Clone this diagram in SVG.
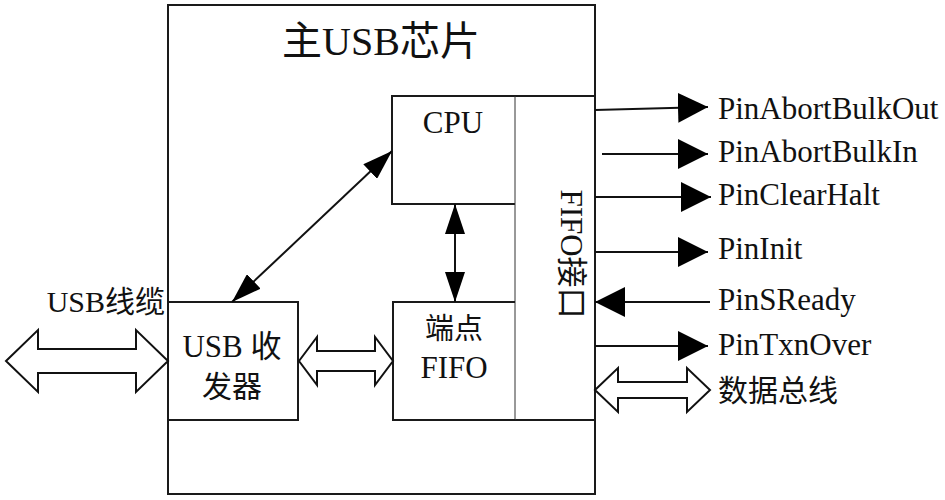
<svg xmlns="http://www.w3.org/2000/svg" width="945" height="500" viewBox="0 0 945 500">
<style>
.box{fill:none;stroke:#1a1a1a;stroke-width:2}
.thin{fill:none;stroke:#333;stroke-width:1}
.ln{stroke:#111;stroke-width:2;fill:none}
.dbl{fill:#fff;stroke:#111;stroke-width:2;stroke-linejoin:miter}
</style>
<defs>
<marker id="ah" viewBox="0 0 30 20" refX="30" refY="10" markerWidth="30" markerHeight="20" markerUnits="userSpaceOnUse" orient="auto-start-reverse">
<path d="M0,0 L30,10 L0,20 Z" fill="#000"/>
</marker>
<marker id="ah2" viewBox="0 0 30 30" refX="30" refY="15" markerWidth="30" markerHeight="30" markerUnits="userSpaceOnUse" orient="auto-start-reverse">
<path d="M0,0 L30,15 L0,30 Z" fill="#000"/>
</marker>
</defs>
<rect width="945" height="500" fill="#fff"/>

<g font-family="Liberation Serif, Noto Sans CJK SC, serif" fill="#111">
<g id="chip">
<rect class="box" x="168" y="5" width="427" height="489"/>
<text x="381" y="55" font-size="40" text-anchor="middle">主USB芯片</text>
</g>

<g id="cpu">
<path class="box" d="M515,204 L392,204 L392,96 L515,96"/>
<text x="453" y="133" font-size="31" text-anchor="middle">CPU</text>
</g>

<g id="fifo-interface">
<path class="box" d="M515,96 L595,96 M515,420 L595,420"/>
<line class="thin" x1="515" y1="96" x2="515" y2="420"/>
<text font-size="31" text-anchor="middle" transform="translate(561,254) rotate(90)">FIFO接口</text>
</g>

<g id="endpoint-fifo">
<path class="box" d="M515,302 L393,302 L393,420 L515,420"/>
<text x="454" y="339" font-size="29" text-anchor="middle">端点</text>
<text x="454" y="378" font-size="31" text-anchor="middle">FIFO</text>
</g>

<g id="usb-transceiver">
<rect class="box" x="168" y="302" width="130" height="118"/>
<text x="232" y="357" font-size="31" text-anchor="middle">USB 收</text>
<text x="232" y="397" font-size="30" text-anchor="middle">发器</text>
</g>

<g id="labels" font-size="31">
<text x="165" y="312" font-size="30" text-anchor="end">USB线缆</text>
<text x="718" y="119">PinAbortBulkOut</text>
<text x="718" y="162">PinAbortBulkIn</text>
<text x="718" y="205">PinClearHalt</text>
<text x="718" y="259">PinInit</text>
<text x="718" y="310">PinSReady</text>
<text x="718" y="355">PinTxnOver</text>
<text x="718" y="401" font-size="30">数据总线</text>
</g>
</g>

<g id="connectors">
<path class="dbl" d="M6,361 L38,330 L38,349 L136,349 L136,330 L168,361 L136,392 L136,373 L38,373 L38,392 Z"/>
<path class="dbl" d="M299,361 L317,337 L317,351 L375,351 L375,337 L393,361 L375,385 L375,371 L317,371 L317,385 Z"/>
<path class="dbl" d="M595,390 L618,368 L618,382 L687,382 L687,368 L710,390 L687,412 L687,398 L618,398 L618,412 Z"/>
<line class="ln" x1="232" y1="302" x2="392" y2="151" marker-start="url(#ah)" marker-end="url(#ah)"/>
<line class="ln" x1="455" y1="204" x2="455" y2="302" marker-start="url(#ah)" marker-end="url(#ah)"/>
<line class="ln" x1="595" y1="110" x2="708" y2="107" marker-end="url(#ah2)"/>
<line class="ln" x1="602" y1="154" x2="708" y2="154" marker-end="url(#ah2)"/>
<line class="ln" x1="595" y1="197" x2="711" y2="197" marker-end="url(#ah2)"/>
<line class="ln" x1="595" y1="252" x2="708" y2="252" marker-end="url(#ah2)"/>
<line class="ln" x1="710" y1="302" x2="595" y2="302" marker-end="url(#ah2)"/>
<line class="ln" x1="595" y1="346" x2="708" y2="346" marker-end="url(#ah2)"/>
</g>
</svg>
